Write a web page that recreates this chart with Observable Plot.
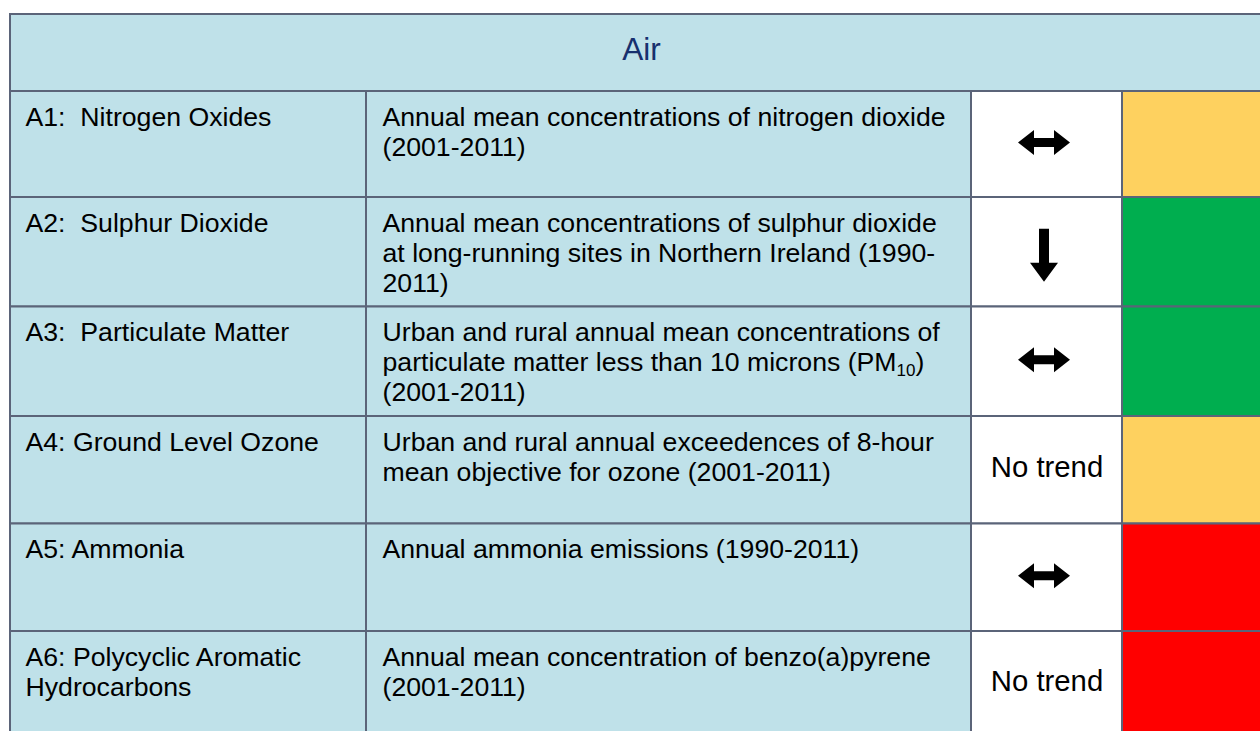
<!DOCTYPE html>
<html>
<head>
<meta charset="utf-8">
<script src="https://cdn.jsdelivr.net/npm/d3@7"></script>
<script src="https://cdn.jsdelivr.net/npm/@observablehq/plot@0.6"></script>
<style>
  html, body { margin: 0; padding: 0; background: #fff; overflow: hidden; }
  #chart { width: 1260px; height: 731px; overflow: hidden; }
</style>
</head>
<body>
<div id="chart"></div>
<script>
// ---- data ----
const sectionTitle = "Air";
const indicators = [
  "A1:  Nitrogen Oxides",
  "A2:  Sulphur Dioxide",
  "A3:  Particulate Matter",
  "A4: Ground Level Ozone",
  "A5: Ammonia",
  "A6: Polycyclic Aromatic\nHydrocarbons"
];
const descriptions = [
  "Annual mean concentrations of nitrogen dioxide\n(2001-2011)",
  "Annual mean concentrations of sulphur dioxide\nat long-running sites in Northern Ireland (1990-\n2011)",
  "Urban and rural annual mean concentrations of\nparticulate matter less than 10 microns (PM10)\n(2001-2011)",
  "Urban and rural annual exceedences of 8-hour\nmean objective for ozone (2001-2011)",
  "Annual ammonia emissions (1990-2011)",
  "Annual mean concentration of benzo(a)pyrene\n(2001-2011)"
];
const trends = ["stable", "decreasing", "stable", "No trend", "stable", "No trend"];
const statuses = ["amber", "green", "green", "amber", "red", "red"];

// ---- styles / layout ----
const statusColors = {amber: "#fed15f", green: "#00ae4f", red: "#ff0000"};
const lightBlue = "#bfe1e9";
const gridColor = "#5b6479";
const colEdges = [10, 366, 971, 1122, 1272];
const rowEdges = [14, 91, 197, 306.5, 416, 523.5, 631, 738];
const font = "Liberation Sans, Arial, Helvetica, sans-serif";

const rows = indicators.map((name, i) => ({
  i, name, desc: descriptions[i], trend: trends[i], status: statuses[i]
}));

const cells = rows.flatMap(r => [
  {x1: colEdges[0], x2: colEdges[1], y1: r.i, y2: r.i + 1, fill: lightBlue},
  {x1: colEdges[1], x2: colEdges[2], y1: r.i, y2: r.i + 1, fill: lightBlue},
  {x1: colEdges[2], x2: colEdges[3], y1: r.i, y2: r.i + 1, fill: "#ffffff"},
  {x1: colEdges[3], x2: colEdges[4], y1: r.i, y2: r.i + 1, fill: statusColors[r.status]}
]);
const header = [{x1: colEdges[0], x2: colEdges[4], y1: -1, y2: 0, title: sectionTitle}];

// custom arrow symbols (centered at origin)
const doubleArrow = {
  draw(ctx) {
    ctx.moveTo(-26, 0); ctx.lineTo(-10, -12.5); ctx.lineTo(-10, -4.5);
    ctx.lineTo(10, -4.5); ctx.lineTo(10, -12.5); ctx.lineTo(26, 0);
    ctx.lineTo(10, 12.5); ctx.lineTo(10, 4.5); ctx.lineTo(-10, 4.5);
    ctx.lineTo(-10, 12.5); ctx.closePath();
  }
};
const downArrow = {
  draw(ctx) {
    ctx.moveTo(-5, -26.5); ctx.lineTo(5, -26.5); ctx.lineTo(5, 7.5);
    ctx.lineTo(14, 7.5); ctx.lineTo(0, 26.5); ctx.lineTo(-14, 7.5);
    ctx.lineTo(-5, 7.5); ctx.closePath();
  }
};

const trendX = (colEdges[2] + colEdges[3]) / 2;

const plot = Plot.plot({
  width: 1260,
  height: 731,
  margin: 0,
  style: {background: "#fff"},
  x: {type: "identity"},
  y: {type: "linear", domain: d3.range(-1, 7), range: rowEdges},
  marks: [
    Plot.rect(header, {x1: "x1", x2: "x2", y1: "y1", y2: "y2", fill: lightBlue, stroke: gridColor, strokeWidth: 2}),
    Plot.rect(cells, {x1: "x1", x2: "x2", y1: "y1", y2: "y2", fill: d => d.fill, stroke: gridColor, strokeWidth: 2}),
    Plot.text(header, {
      x: d => (d.x1 + d.x2) / 2, y: -0.5, text: "title", dy: -3,
      fontSize: 31.5, fontFamily: font, fill: "#17306e", lineAnchor: "middle"
    }),
    Plot.text(rows, {
      x: colEdges[0] + 15, y: "i", text: "name", dy: 13,
      textAnchor: "start", lineAnchor: "top", lineHeight: 1.125,
      fontSize: 26.67, fontFamily: font, fill: "#000"
    }),
    Plot.text(rows, {
      x: colEdges[1] + 16, y: "i", text: "desc", dy: 13,
      textAnchor: "start", lineAnchor: "top", lineHeight: 1.125,
      fontSize: 26.67, fontFamily: font, fill: "#000"
    }),
    Plot.text(rows.filter(r => r.trend === "No trend"), {
      x: trendX, y: d => d.i + 0.5, text: "trend", dy: -3,
      lineAnchor: "middle", fontSize: 29.3, fontFamily: font, fill: "#000"
    }),
    Plot.dot(rows.filter(r => r.trend === "stable"), {
      x: trendX, y: d => d.i + 0.5, dx: -3, dy: -2, symbol: doubleArrow, fill: "#000", stroke: "none"
    }),
    Plot.dot(rows.filter(r => r.trend === "decreasing"), {
      x: trendX, y: d => d.i + 0.5, dx: -3, dy: 3, symbol: downArrow, fill: "#000", stroke: "none"
    })
  ]
});

// subscript for PM10
d3.select(plot).selectAll("tspan, text").filter(function () {
  return this.childElementCount === 0 && this.textContent.endsWith("(PM10)");
}).each(function () {
  const el = d3.select(this);
  const base = this.textContent.replace(/10\)$/, "");
  el.text(base);
  el.append("tspan").attr("font-size", 17).attr("dy", 5).text("10");
  el.append("tspan").attr("dy", -5).text(")");
});

document.getElementById("chart").appendChild(plot);
</script>
</body>
</html>
